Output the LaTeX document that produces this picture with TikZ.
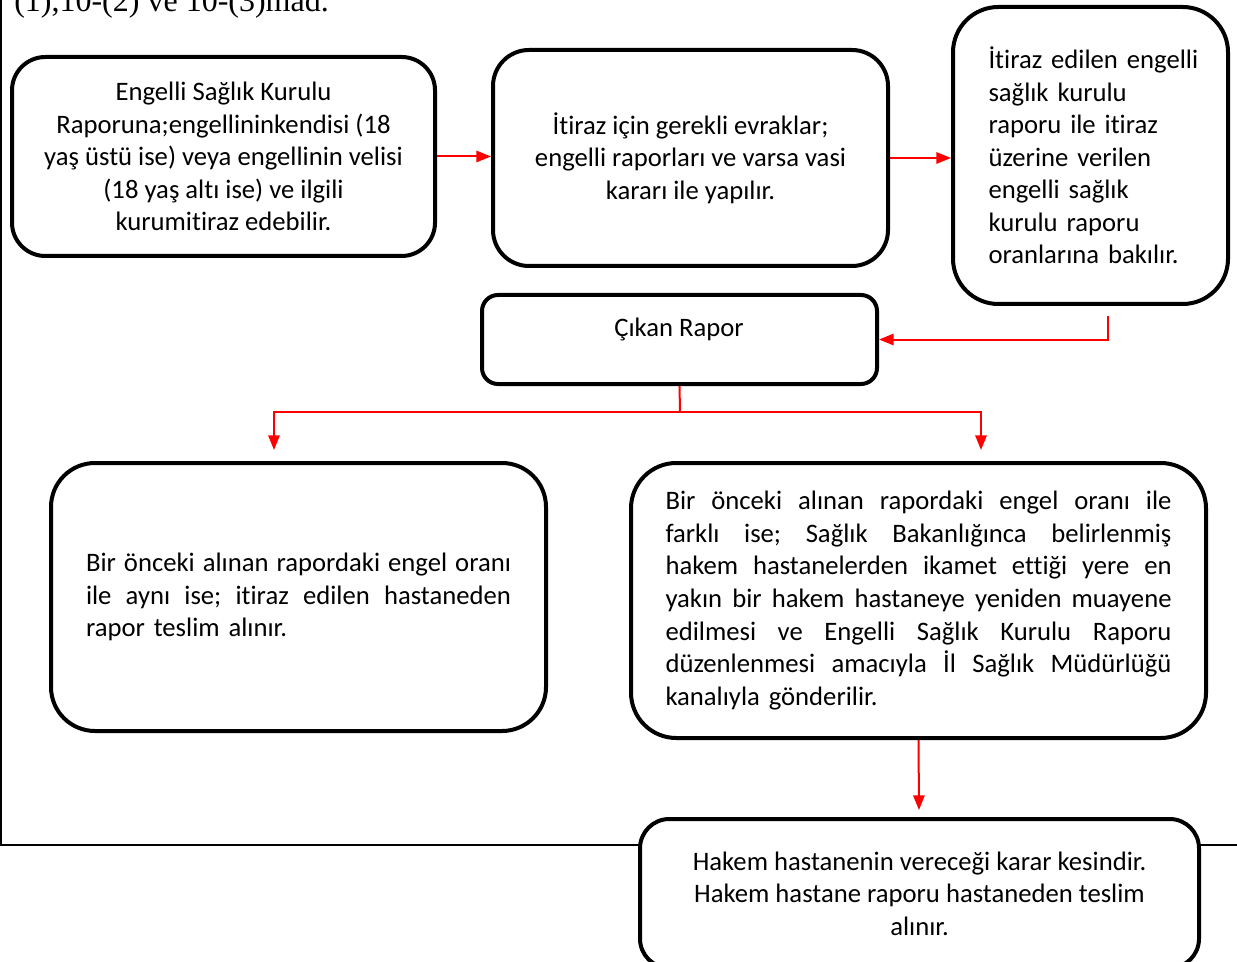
\documentclass[tikz,border=0pt]{standalone}
\usepackage{fontspec}
\setmainfont{Carlito}[Ligatures=NoCommon]
\newfontfamily\serifhead{Liberation Serif}
\usetikzlibrary{arrows.meta}
\frenchspacing
% one fully stretched line of a justified block
\newcommand\justline[2]{\leavevmode\hbox to #1{\spaceskip=0.226em plus 1fil\relax #2}\\}
\begin{document}
\begin{tikzpicture}[x=0.75pt,y=-0.75pt,
  bx/.style={draw=black, line width=3pt, fill=white, inner sep=0pt, align=center,
             font={\fontsize{20}{24.4}\selectfont}},
  lbl/.style={inner sep=0pt, font={\fontsize{20}{24.4}\selectfont}},
  conn/.style={draw=red, line width=1.5pt},
  arr/.style={conn, -{Triangle[length=11pt,width=8.5pt]}},
  frame/.style={draw=black, line width=1.5pt}]
\useasboundingbox (0,0) rectangle (1237,962);

% page frame and heading line
\draw[frame] (1,0) -- (1,845) -- (1237,845);
\node[anchor=base west, inner sep=0pt, font={\serifhead\fontsize{24}{28}\selectfont}] (hdr) at (14,12) {(1),10-(2) ve 10-(3)mad.};

% boxes
\node[bx, minimum width=317.25pt, minimum height=149.25pt, rounded corners=25pt] (b1) at (223.5,156.5)
  {Engelli Sağlık Kurulu\\Raporuna;engellininkendisi (18\\yaş üstü ise) veya engellinin velisi\\(18 yaş altı ise) ve ilgili\\kurumitiraz edebilir.};
\node[bx, minimum width=296.25pt, minimum height=162pt, rounded corners=27pt] (b2) at (690.5,158)
  {İtiraz için gerekli evraklar;\\engelli raporları ve varsa vasi\\kararı ile yapılır.};
\node[bx, minimum width=206.25pt, minimum height=222.75pt, rounded corners=34pt, text width=153pt, align=left] (b3) at (1090.5,155.5)
  {\mbox{İtiraz edilen engelli}\\\mbox{sağlık kurulu}\\\mbox{raporu ile itiraz}\\\mbox{üzerine verilen}\\\mbox{engelli sağlık}\\\mbox{kurulu raporu}\\\mbox{oranlarına bakılır.}};
\node[bx, minimum width=296.25pt, minimum height=66.75pt, rounded corners=12pt] (b4) at (679.5,339.5) {};
\node[lbl] (b4t) at (679,329) {Çıkan Rapor};
\node[bx, minimum width=371.25pt, minimum height=201pt, rounded corners=33pt, text width=318.75pt, align=left] (b5) at (298.5,597)
  {\justline{318.75pt}{Bir önceki alınan rapordaki engel oranı}\justline{318.75pt}{ile aynı ise; itiraz edilen hastaneden}\mbox{rapor teslim alınır.}};
\node[bx, minimum width=431.25pt, minimum height=206.25pt, rounded corners=34pt, text width=379.5pt, align=left] (b6) at (918.5,600.5)
  {\justline{379.5pt}{Bir önceki alınan rapordaki engel oranı ile}\justline{379.5pt}{farklı ise; Sağlık Bakanlığınca belirlenmiş}\justline{379.5pt}{hakem hastanelerden ikamet ettiği yere en}\justline{379.5pt}{yakın bir hakem hastaneye yeniden muayene}\justline{379.5pt}{edilmesi ve Engelli Sağlık Kurulu Raporu}\justline{379.5pt}{düzenlenmesi amacıyla İl Sağlık Müdürlüğü}\mbox{kanalıyla gönderilir.}};
\node[bx, minimum width=419.25pt, minimum height=111.75pt, rounded corners=22pt] (b7) at (919.5,893.5)
  {Hakem hastanenin vereceği karar kesindir.\\Hakem hastane raporu hastaneden teslim\\alınır.};

% connectors
\coordinate (c3) at (1108,316);
\coordinate (j) at (680,412);
\coordinate (t5) at (274,450);
\coordinate (t6) at (981,450);
\coordinate (t7) at (919,810);

\draw[arr] (b1.east) -- (b1.east -| b2.west);
\draw[arr] (b2.east) -- (b2.east -| b3.west);
\draw[arr] (c3) |- (b4.east);
\draw[conn] (b4.south) -- (j);
\draw[arr] (j) -| (t5);
\draw[arr] (j) -| (t6);
\draw[arr] (b6.south) -- (t7);
\end{tikzpicture}
\end{document}
